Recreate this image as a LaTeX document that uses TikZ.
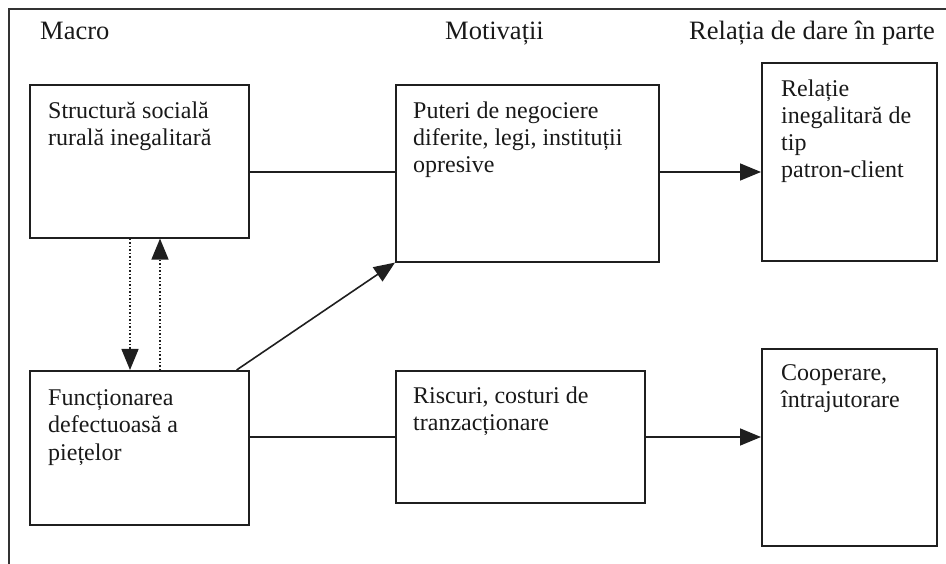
\documentclass[tikz,border=0pt]{standalone}
\usepackage{fontspec}
\setmainfont{Liberation Serif}
\usetikzlibrary{arrows.meta,calc}
\begin{document}
\begin{tikzpicture}[x=1pt,y=-1pt,
  ink/.style={draw=black!88,line width=1.6pt},
  boxnode/.style={ink,rectangle,inner sep=0pt,anchor=north west},
  boxtext/.style={anchor=base west,align=left,inner sep=0pt,font=\fontsize{24}{27.2}\selectfont,text=black!90},
  headtext/.style={anchor=base west,inner sep=0pt,font=\fontsize{26.5}{30}\selectfont,text=black!90},
  tip/.style={-{Triangle[length=21pt,width=17pt]}},
  conn/.style={ink},
  dotconn/.style={draw=black!88,line width=1.5pt,dotted}]
\useasboundingbox (0,0) rectangle (946,564);
% outer frame (open at right and bottom)
\draw[draw=black!80,line width=1.3pt] (9,564) -- (9,9) -- (946,9);
% headers
\node[headtext] (hmacro) at (40,40) {Macro};
\node[headtext] (hmot) at (445,40) {Motivații};
\node[headtext] (hrel) at (689,40) {Relația de dare în parte};
% boxes
\node[boxnode,minimum width=219pt,minimum height=153pt] (s) at (29,84) {};
\node[boxnode,minimum width=219pt,minimum height=154pt] (f) at (29,370) {};
\node[boxnode,minimum width=263pt,minimum height=177pt] (p) at (395,84) {};
\node[boxnode,minimum width=249pt,minimum height=132pt] (r) at (395,370) {};
\node[boxnode,minimum width=175pt,minimum height=198pt] (rel) at (761,62) {};
\node[boxnode,minimum width=175pt,minimum height=197pt] (c) at (761,348) {};
% box texts (anchored at the baseline of their last line)
\node[boxtext] (ts) at (48,145.5) {Structură socială\\rurală inegalitară};
\node[boxtext] (tf) at (48,460) {Funcționarea\\defectuoasă a\\piețelor};
\node[boxtext] (tp) at (413,173) {Puteri de negociere\\diferite, legi, instituții\\opresive};
\node[boxtext] (tr) at (413,430.5) {Riscuri, costuri de\\tranzacționare};
\node[boxtext] (trel) at (781,178) {Relație\\inegalitară de\\tip\\patron-client};
\node[boxtext] (tc) at (781,407.5) {Cooperare,\\întrajutorare};
% row levels
\coordinate (yA) at (0,172);
\coordinate (yB) at (0,437);
\coordinate (xD) at (130,0);
\coordinate (xU) at (160,0);
% connectors
\draw[conn] (s.east |- yA) -- (p.west |- yA);
\draw[conn,tip] (p.east |- yA) -- (rel.west |- yA);
\draw[conn] (f.east |- yB) -- (r.west |- yB);
\draw[conn,tip] (r.east |- yB) -- (c.west |- yB);
\draw[dotconn,tip] (s.south -| xD) -- (f.north -| xD);
\draw[dotconn,tip] (f.north -| xU) -- (s.south -| xU);
\draw[conn,tip] ([xshift=-13pt]f.north east) -- (p.south west);
\end{tikzpicture}
\end{document}
